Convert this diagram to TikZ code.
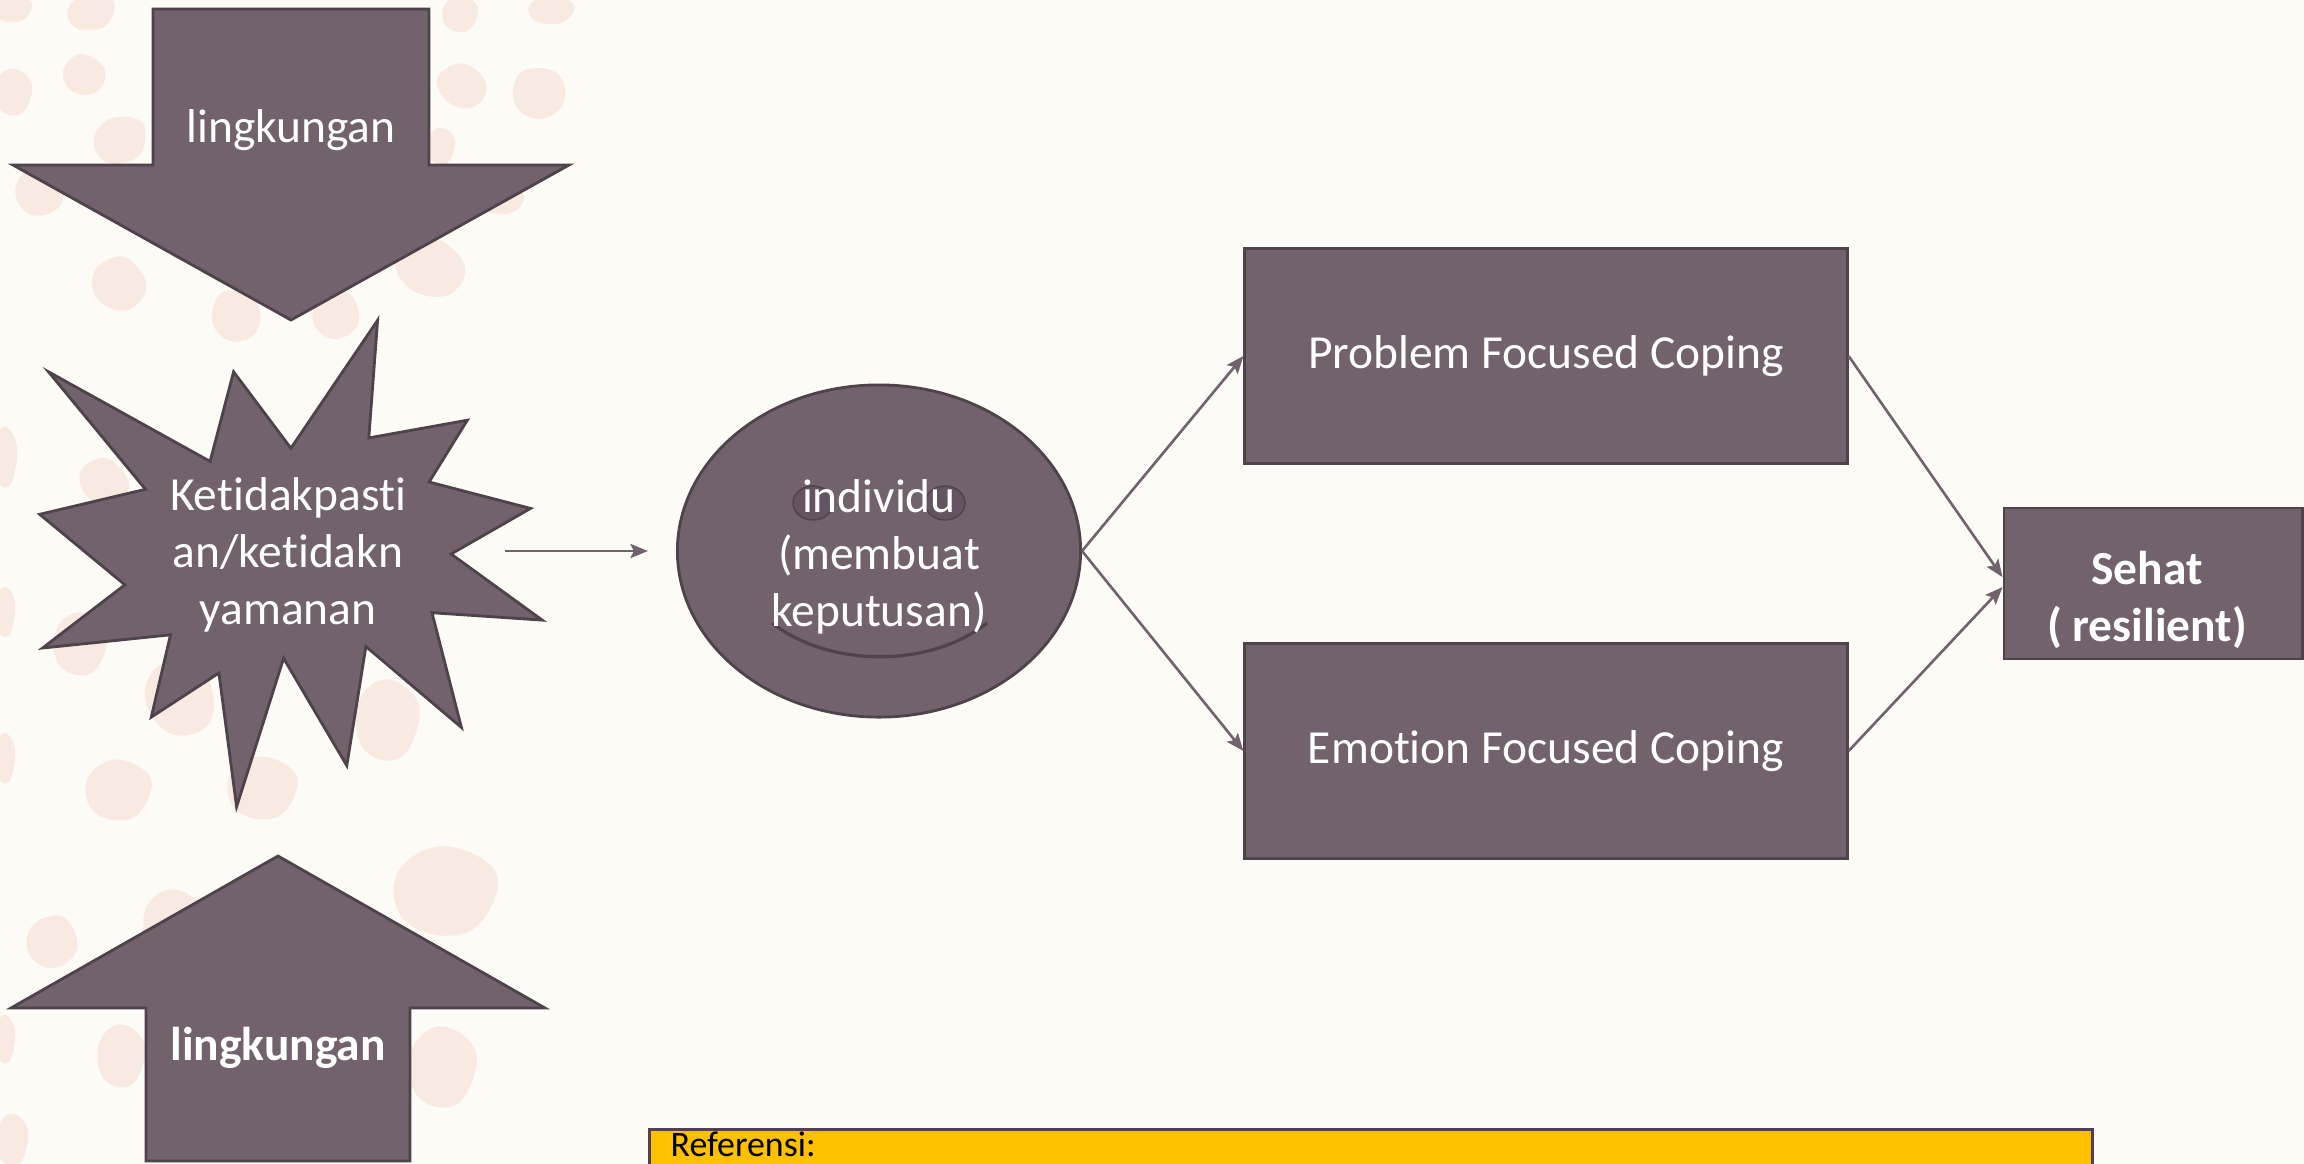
\documentclass[tikz,border=0pt]{standalone}
\usepackage{fontspec}
\setmainfont{Carlito}[Ligatures=NoCommon]
\usetikzlibrary{shapes.geometric,arrows.meta}
\definecolor{mauve}{HTML}{71626D}
\definecolor{mauvedk}{HTML}{4E424B}
\definecolor{eyefill}{HTML}{625460}
\definecolor{paper}{HTML}{FDFBF6}
\definecolor{speck}{HTML}{F8E9E1}
\definecolor{refgold}{HTML}{FFC000}
\providecommand{\blob}[5]{\fill[speck, shift={(#1,#2)}, rotate=#5, xscale=#3, yscale=#4]
  plot[smooth cycle, tension=0.7] coordinates {(1,0) (0.4,0.95) (-0.7,0.75) (-0.95,-0.3) (-0.2,-1) (0.75,-0.7)};}

\begin{document}
\begin{tikzpicture}[
  x=0.01cm, y=-0.01cm,
  txt/.style={font=\fontsize{13.5}{16.2}\selectfont, text=white, align=center},
  txtb/.style={font=\fontsize{13.5}{16.2}\selectfont\bfseries, text=white, align=center},
  shp/.style={fill=mauve, draw=mauvedk, line width=.8pt, line join=miter},
  box/.style={shp, rectangle, minimum width=6.02cm, minimum height=2.15cm, txt},
  conn/.style={draw=mauve, line width=.75pt, -{Stealth[length=5pt, width=4pt, inset=1pt]}},
]

% ---------------- page + background specks ----------------
\fill[paper] (0,0) rectangle (2304,1163);
\useasboundingbox (0,0) rectangle (2304,1163);
\blob{12}{8}{20}{14}{0}      \blob{91}{12}{24}{18}{10}    \blob{84}{75}{20}{21}{80}
\blob{13}{92}{19}{23}{0}     \blob{120}{140}{27}{23}{20}  \blob{40}{191}{25}{24}{30}
\blob{119}{284}{26}{27}{60}  \blob{236}{316}{26}{24}{100} \blob{336}{315}{24}{23}{40}
\blob{430}{267}{29}{35}{70}  \blob{441}{146}{14}{18}{0}   \blob{462}{86}{25}{21}{150}
\blob{539}{93}{26}{26}{110}  \blob{460}{14}{18}{18}{0}    \blob{551}{10}{23}{14}{0}
\blob{501}{200}{23}{14}{0}   \blob{5}{457}{12}{30}{0}     \blob{104}{482}{22}{25}{60}
\blob{5}{612}{10}{25}{0}     \blob{80}{644}{27}{31}{0}    \blob{180}{698}{34}{38}{30}
\blob{387}{720}{32}{40}{0}   \blob{118}{790}{33}{30}{0}   \blob{262}{788}{35}{31}{0}
\blob{5}{758}{10}{25}{0}     \blob{52}{942}{26}{25}{45}   \blob{173}{921}{30}{31}{0}
\blob{445}{891}{52}{44}{0}   \blob{5}{1039}{10}{24}{0}    \blob{121}{1056}{24}{31}{0}
\blob{442}{1067}{34}{40}{0}  \blob{12}{1140}{16}{26}{0}

% ---------------- left column: pressure arrows + star ----------------
\draw[shp] (153,9) -- (429,9) -- (429,165) -- (569,165) -- (291,320) -- (13,165) -- (153,165) -- cycle;
\node[txt] (envtop) at (291,130) {lingkungan};

\draw[shp] (48.5,371.8) -- (210.1,461.4) -- (233.6,371.8) -- (290.9,448.2) -- (377.6,320.3)
  -- (368.8,437.9) -- (467.3,420.2) -- (429.1,482.0) -- (530.5,508.4) -- (451.1,554.0)
  -- (542.2,620.1) -- (432.0,612.7) -- (461.4,727.4) -- (365.9,646.5) -- (346.8,765.6)
  -- (283.6,658.3) -- (236.6,806.7) -- (218.9,673.0) -- (151.3,717.1) -- (170.5,634.8)
  -- (42.6,648.0) -- (124.9,584.8) -- (39.7,514.3) -- (145.5,489.3) -- cycle;
\node[txt] (uncert) at (288,555) {Ketidakpasti\\an/ketidakn\\yamanan};

\draw[shp] (278,856) -- (545,1008) -- (410,1008) -- (410,1161) -- (146,1161) -- (146,1008) -- (11,1008) -- cycle;
\node[txtb] (envbot) at (278,1048) {lingkungan};

% ---------------- the individual (face) ----------------
\node[shp, ellipse, minimum width=4.03cm, minimum height=3.32cm] (indiv) at (879,551) {};
\draw[fill=eyefill, draw=mauvedk, line width=.4pt] (813,503) ellipse [x radius=.2cm, y radius=.17cm];
\draw[fill=eyefill, draw=mauvedk, line width=.4pt] (945,503) ellipse [x radius=.2cm, y radius=.17cm];
\draw[mauvedk, line width=.9pt] (772,623) .. controls (830,668) and (930,668) .. (987,623);
\node[txt] (indivtxt) at (879,557) {individu\\(membuat\\keputusan)};

% ---------------- coping + outcome ----------------
\node[box] (pfc) at (1546,356) {Problem Focused Coping};
\node[box] (efc) at (1546,751) {Emotion Focused Coping};
\node[shp, rectangle, minimum width=2.98cm, minimum height=1.51cm] (sehat) at (2153,583.5) {};
\node[txtb] (sehattxt) at (2147,600) {Sehat\\( resilient)};

% ---------------- reference strip (cut by the page edge) ----------------
\node[draw=mauvedk, fill=refgold, line width=.8pt, minimum width=14.42cm, minimum height=.8cm,
      anchor=north west, inner sep=0pt] (refs) at (648,1128) {};
\node[anchor=base west, inner sep=0pt, font=\fontsize{10.2}{12}\selectfont, text=black] (refslbl) at (670,1156) {Referensi:};

% ---------------- connectors ----------------
\coordinate (gapL) at (505,551);
\coordinate (gapR) at (648,551);
\draw[conn] (gapL) -- (gapR);
\draw[conn] (indiv.east) -- (pfc.west);
\draw[conn] (indiv.east) -- (efc.west);
\draw[conn] (pfc.east) -- ([yshift=1.8pt]sehat.west);
\draw[conn] (efc.east) -- ([yshift=-1pt]sehat.west);

\end{tikzpicture}
\end{document}
